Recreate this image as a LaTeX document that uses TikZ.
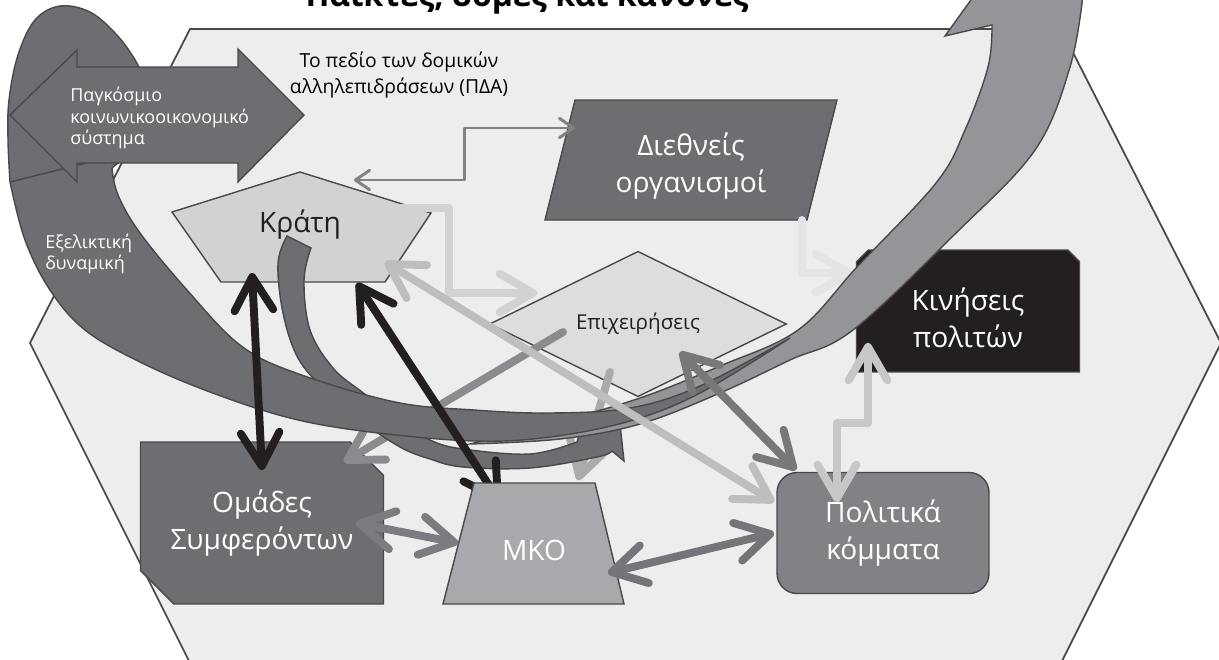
\documentclass[tikz,border=0pt]{standalone}
\usepackage{fontspec}
\setmainfont{Open Sans}
\usetikzlibrary{arrows.meta,shapes.geometric,shapes.misc}

\definecolor{dgray}{HTML}{6D6E71}
\definecolor{mgray}{HTML}{808285}
\definecolor{cgray}{HTML}{7B7C7F}
\definecolor{pgray}{HTML}{8A8B8E}
\definecolor{bgray}{HTML}{939598}
\definecolor{ngray}{HTML}{A7A9AC}
\definecolor{lgray}{HTML}{BCBEC0}
\definecolor{kgray}{HTML}{D1D2D4}
\definecolor{egray}{HTML}{DCDDDE}
\definecolor{vgray}{HTML}{E3E4E5}
\definecolor{field}{HTML}{EDEDED}
\definecolor{edge}{HTML}{48494B}
\definecolor{ink}{HTML}{231F20}

\tikzset{
  chev/.tip={Straight Barb[length=19pt,width=22pt,round]},
  fine/.tip={Straight Barb[length=8pt,width=11pt,round]}
}

\begin{document}
\begin{tikzpicture}[x=0.02cm, y=-0.02cm,
  shp/.style={draw=edge, line width=0.8pt},
  box/.style={shp, align=center, text=white, inner sep=0pt, font=\fontsize{16}{21}\selectfont},
  lbl/.style={align=center, inner sep=0pt, font=\fontsize{16}{21}\selectfont},
  note/.style={align=left, inner sep=0pt, text=white, font=\fontsize{10.2}{12.2}\selectfont},
  con/.style={line width=4.5pt, line cap=round, line join=round},
  fin/.style={line width=1.7pt, line cap=round, line join=round, fine-fine}
]
\useasboundingbox (0,0) rectangle (1219,659);

% field of structural interactions
\path[fill=field, draw=edge, line width=1pt] (190,29) -- (1061,29) -- (1221,343) -- (1061,663) -- (190,663) -- (30,343) -- cycle;
\node[font=\bfseries\fontsize{18.3}{22}\selectfont, anchor=base] (title) at (527,7) {Παίκτες, δομές και κανόνες};
\node[align=center, inner sep=0pt, font=\fontsize{11}{14.6}\selectfont] (pda) at (399,75) {Το πεδίο των δομικών\\αλληλεπιδράσεων (ΠΔΑ)};

% actors
\path[shp, fill=kgray] (300,172) -- (431,213) -- (385,282) -- (221,282) -- (172,212) -- cycle;
\node[lbl, text=ink] (krati) at (300,225) {Κράτη};
\path[shp, fill=dgray] (575,100) -- (837,100) -- (807,220) -- (545,220) -- cycle;
\node[lbl, text=white] (diethn) at (691,166) {Διεθνείς\\οργανισμοί};
\node[shp, diamond, fill=egray, minimum width=5.94cm, minimum height=2.24cm, inner sep=0pt, text=ink, font=\fontsize{11.7}{14}\selectfont] (epix) at (638,324) {Επιχειρήσεις};
\node[shp, chamfered rectangle, chamfered rectangle corners={north west,north east}, chamfered rectangle xsep=0.36cm, fill=ink, minimum width=4.46cm, minimum height=2.44cm] (kin) at (968,311) {};
\node[lbl, text=white] (kintxt) at (968,318) {Κινήσεις\\πολιτών};
\node[box, chamfered rectangle, chamfered rectangle corners={north east,south west}, chamfered rectangle xsep=0.54cm, fill=dgray, minimum width=4.86cm, minimum height=3.24cm] (omad) at (262,523) {Ομάδες\\Συμφερόντων};
\node[box, rounded corners=0.4cm, fill=mgray, minimum width=4.24cm, minimum height=2.42cm] (komm) at (883,533) {Πολιτικά\\κόμματα};

% connector ends
\coordinate (kr1) at (252,273);  \coordinate (om1) at (262,470);
\coordinate (kr2) at (357,283);  \coordinate (mk1) at (500,502);
\coordinate (ep1) at (563,332);  \coordinate (om2) at (344,462);
\coordinate (ep2) at (610,372);  \coordinate (mk2) at (578,480);
\coordinate (di1) at (802,220);  \coordinate (ki1) at (853,273);
\coordinate (kr3) at (358,208);  \coordinate (ep3) at (537,293);
\coordinate (di2) at (575,128);  \coordinate (kr4) at (354,180);
\coordinate (kr5) at (385,262);  \coordinate (ko1) at (774,502);
\coordinate (ep4) at (680,352);  \coordinate (ko2) at (796,470);
\coordinate (om3) at (356,523);  \coordinate (mk3) at (458,543);
\coordinate (mk4) at (608,573);  \coordinate (ko3) at (774,533);
\coordinate (ko4) at (837,502);  \coordinate (ki2) at (868,343);

% links behind the dynamics arrow
\draw[con, pgray, -chev] (ep1) -- (om2);
\draw[con, lgray!90!black, -chev] (ep2) -- (mk2);
\draw[con, vgray, -chev] (di1) -- ++(0,53) -- (ki1);

% small curved arrow
\path[shp, fill=dgray] (287,236) -- (311,248)
  -- plot[smooth, tension=0.6] coordinates {(311,248) (304,280) (310,330) (333,368) (362,392) (400,420) (430,440) (463,449) (530,454) (577,442)}
  -- (580,432) -- (620,424) -- (624,461) -- (612,451)
  -- plot[smooth, tension=0.6] coordinates {(612,451) (597,457) (530,468) (463,467) (430,459) (400,447) (360,420) (325,390) (298,358) (283,313) (278,263) (287,236)} -- cycle;

% evolutionary dynamics: front and back of the band
\path[shp, fill=bgray] (470,444)
  -- plot[smooth, tension=0.6] coordinates {(470,444) (560,439) (640,424) (720,393) (790,360) (853,330) (956,233) (1035,150) (1070,67) (1083,-5)}
  -- (1105,-8) -- (1050,-110) -- (945,36) -- (992,25)
  -- plot[smooth, tension=0.6] coordinates {(992,25) (988,67) (965,130) (936,183) (857,267) (798,330) (720,366) (640,398) (560,421) (470,444)} -- cycle;
\path[shp, fill=dgray] (10,182)
  -- plot[smooth, tension=0.6] coordinates {(10,182) (8,140) (9,100) (18,55) (35,20) (60,6) (90,12) (115,33) (132,55) (142,75) (148,105) (140,140) (112,168)}
  -- plot[smooth, tension=0.6] coordinates {(112,168) (118,195) (140,233) (187,290) (240,345) (296,373) (395,402) (474,410) (550,413) (630,408) (700,386) (790,338)}
  -- plot[smooth, tension=0.6] coordinates {(790,338) (700,393) (630,421) (550,437) (474,441) (370,432) (290,418) (210,392) (140,362) (85,330) (50,290) (25,240) (10,182)} -- cycle;
\draw[edge, line width=0.8pt] (10,182) -- (130,152);
\node[note, anchor=west] (exel) at (45,254) {Εξελικτική\\δυναμική};

% global socio-economic system
\path[shp, fill=dgray] (10,115) -- (77,50) -- (77,67) -- (238,67) -- (238,49) -- (304,115) -- (238,182) -- (238,163) -- (77,163) -- (77,182) -- cycle;
\node[note, anchor=west] (pagk) at (70,118) {Παγκόσμιο\\κοινωνικοοικονομικό\\σύστημα};

% links in front
\draw[con, ink, chev-chev] (kr1) -- (om1);
\draw[con, ink, chev-chev] (kr2) -- (mk1);

\path[shp, fill=ngray] (474,483) -- (595,483) -- (624,604) -- (443,604) -- cycle;
\node[lbl, text=white] (mko) at (534,550) {ΜΚΟ};

\draw[con, kgray, -chev] (kr3) -- ++(91,0) |- (ep3);
\draw[fin, mgray] (di2) -- ++(-111,0) |- (kr4);
\draw[con, lgray, chev-chev] (kr5) -- (ko1);
\draw[con, mgray!92!black, chev-chev] (ep4) -- (ko2);
\draw[con, cgray, chev-chev] (om3) -- (mk3);
\draw[con, dgray!95!white, chev-chev] (mk4) -- (ko3);
\draw[con, kgray!95!black, chev-chev] (ko4) -- ++(0,-79) -| (ki2);
\end{tikzpicture}
\end{document}
